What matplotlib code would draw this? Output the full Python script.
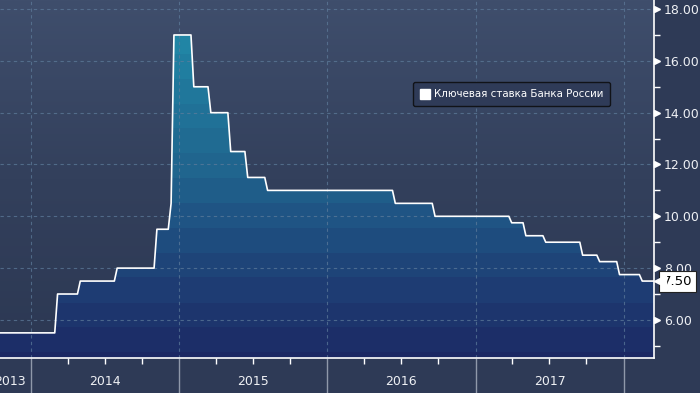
import numpy as np
import pandas as pd
import matplotlib
matplotlib.use("Agg")
import matplotlib.pyplot as plt
import matplotlib.dates as mdates
from matplotlib.colors import LinearSegmentedColormap
from matplotlib.transforms import blended_transform_factory, offset_copy

plt.rcParams['font.family'] = ['DejaVu Sans']

# Ключевая ставка ЦБ РФ: дата изменения и новое значение
change_dates = ["2013-09-13", "2014-03-03", "2014-04-28", "2014-07-28", "2014-11-05",
                "2014-12-12", "2014-12-16", "2015-02-02", "2015-03-16", "2015-05-05",
                "2015-06-16", "2015-08-03", "2016-06-14", "2016-09-19", "2017-03-27",
                "2017-05-02", "2017-06-19", "2017-09-18", "2017-10-30", "2017-12-18",
                "2018-02-12"]
rates = [5.50, 7.00, 7.50, 8.00, 9.50, 10.50, 17.00, 15.00, 14.00, 12.50,
         11.50, 11.00, 10.50, 10.00, 9.75, 9.25, 9.00, 8.50, 8.25, 7.75, 7.50]
years = [2013, 2014, 2015, 2016, 2017]
last_value = "7.50"
legend_label = "Ключевая ставка Банка России"

x_start = pd.Timestamp("2013-10-16")
x_end = pd.Timestamp("2018-03-17")

# ряд по дням -> по неделям (как у Bloomberg, с лёгкими наклонами)
s = pd.Series(rates, index=pd.to_datetime(change_dates))
daily = s.reindex(pd.date_range(s.index[0], x_end, freq="D")).ffill()
weekly = daily.resample("W-FRI").last()
weekly[x_end] = daily.iloc[-1]
weekly = weekly.sort_index()
weekly = weekly[weekly.index >= x_start - pd.Timedelta(days=7)]

fig = plt.figure(figsize=(7, 3.93), dpi=100)
fig.patch.set_facecolor("#2e3a56")
ax = fig.add_axes([0, 35/393, 654/700, 358/393])
ymin, ymax = 4.53, 18.35
x0, x1 = mdates.date2num(x_start), mdates.date2num(x_end)
ax.set_xlim(x_start, x_end)
ax.set_ylim(ymin, ymax)

# фон с градиентом
bg = LinearSegmentedColormap.from_list("bg", ["#2c3853", "#33405c", "#3f4e6c"])
grad = np.linspace(0, 1, 256).reshape(-1, 1)
ax.imshow(grad, cmap=bg, origin="lower", aspect="auto",
          extent=[x0, x1, ymin, ymax], zorder=0)

# ступенчатая заливка полосами
fillcm = LinearSegmentedColormap.from_list(
    "fill", [(0.0, "#1b2863"), (0.15, "#1e376f"), (0.35, "#1f4e80"),
             (0.5, "#20628c"), (0.75, "#20799d"), (1.0, "#2494b0")])
bounds = np.arange(4.75, 18.6, 0.96)
levels = np.linspace(ymin, ymax, 600)
band = np.digitize(levels, bounds)
band = band / band.max()
fill_img = ax.imshow(band.reshape(-1, 1), cmap=fillcm, origin="lower", aspect="auto",
                     extent=[x0, x1, ymin, ymax], zorder=1, interpolation="nearest")
poly = ax.fill_between(weekly.index, ymin, weekly.values, color="none", lw=0)
fill_img.set_clip_path(poly.get_paths()[0], transform=ax.transData)

ax.plot(weekly.index, weekly.values, color="white", lw=1.2, zorder=4,
        label=legend_label)

# сетка
ax.set_yticks(np.arange(6, 19, 2))
ax.set_yticks(np.arange(5, 19, 2), minor=True)
ax.xaxis.set_major_locator(mdates.YearLocator())
ax.xaxis.set_minor_locator(mdates.MonthLocator([4, 7, 10]))
ax.grid(True, which="major", color="#5f7d9c", alpha=0.7, lw=0.8, ls=(0, (3, 3)))
ax.set_axisbelow(False)
for gl in ax.get_xgridlines() + ax.get_ygridlines():
    gl.set_zorder(3)

for sp in ["left", "top"]:
    ax.spines[sp].set_visible(False)
for sp in ["right", "bottom"]:
    ax.spines[sp].set_color("white")
    ax.spines[sp].set_linewidth(1.2)
    ax.spines[sp].set_zorder(5)

ax.yaxis.tick_right()
ax.tick_params(axis="y", which="major", length=0, pad=7, labelsize=9,
               labelcolor="#eef0f4")
ax.tick_params(axis="y", which="minor", length=4, width=1, color="white",
               direction="out")
ax.yaxis.set_major_formatter(matplotlib.ticker.FormatStrFormatter("%.2f"))
ax.tick_params(axis="x", which="major", length=26, width=1, color="#8f98aa",
               labelbottom=False)
ax.tick_params(axis="x", which="minor", length=4, width=1, color="white")

# треугольники у основных делений справа
tri_tr = offset_copy(blended_transform_factory(ax.transAxes, ax.transData),
                     fig=fig, x=3, y=0, units="dots")
for v in ax.get_yticks():
    ax.plot([1.0], [v], marker=">", ms=5, color="white", mec="white",
            transform=tri_tr, clip_on=False, zorder=6)

# подписи лет
lab_tr = blended_transform_factory(ax.transData, ax.transAxes)
for yr in years:
    a = mdates.date2num(pd.Timestamp(f"{yr}-01-01"))
    b = mdates.date2num(pd.Timestamp(f"{yr + 1}-01-01"))
    xc = (a + b) / 2 if a >= x0 else x0 + (b - x0) * 0.33
    ax.text(xc, -0.065, str(yr), transform=lab_tr, ha="center",
            va="center", fontsize=9, color="#eef0f4", clip_on=False)

# метка последнего значения
val_tr = offset_copy(blended_transform_factory(ax.transAxes, ax.transData),
                     fig=fig, x=9, y=0, units="dots")
ax.text(1.0, rates[-1], last_value, transform=val_tr, ha="left", va="center",
        fontsize=9.5, color="black", zorder=7, clip_on=False,
        bbox=dict(boxstyle="square,pad=0.3", fc="white", ec="#222222", lw=0.8))
tag_tr = offset_copy(blended_transform_factory(ax.transAxes, ax.transData),
                     fig=fig, x=6, y=0, units="dots")
ax.plot([1.0], [rates[-1]], marker="<", ms=8, color="white", mec="white",
        transform=tag_tr, clip_on=False, zorder=8)

# легенда
handle = plt.Line2D([], [], marker="s", ls="none", ms=7, color="white")
leg = ax.legend([handle], [legend_label], loc="upper left",
                bbox_to_anchor=(0.624, 0.785), fontsize=7.4, frameon=True,
                handlelength=0.8, handletextpad=0.5, borderpad=0.7,
                fancybox=True)
leg.get_frame().set_facecolor("#2f3b58")
leg.get_frame().set_edgecolor("#111318")
leg.get_frame().set_alpha(1)
for t in leg.get_texts():
    t.set_color("white")

fig.savefig("out.png", dpi=100, facecolor=fig.get_facecolor())
